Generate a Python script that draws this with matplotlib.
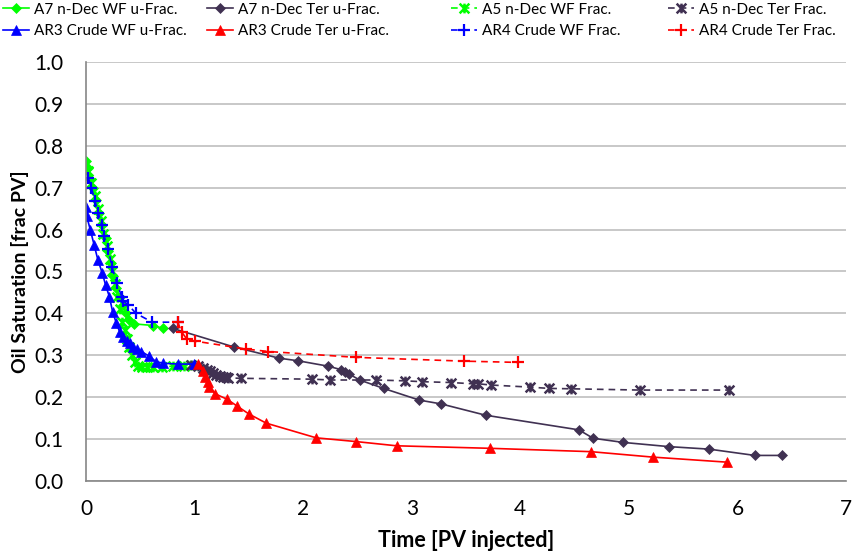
import numpy as np
import matplotlib
matplotlib.use('Agg')
import matplotlib.pyplot as plt
from matplotlib.path import Path

plt.rcParams['font.family'] = ['Lato', 'DejaVu Sans']

# A7 n-Dec WF u-Frac. (green, solid, diamond)
a7_wf_x = [0.0, 0.02, 0.04, 0.06, 0.09, 0.12, 0.15, 0.18, 0.20, 0.23, 0.25, 0.28,
           0.31, 0.34, 0.37, 0.40, 0.44, 0.62, 0.71]
a7_wf_y = [0.764, 0.746, 0.72, 0.70, 0.67, 0.64, 0.61, 0.58, 0.55, 0.52, 0.49, 0.46,
           0.44, 0.42, 0.40, 0.385, 0.375, 0.371, 0.364]

# A7 n-Dec Ter u-Frac. (dark purple, solid, diamond)
a7_ter_x = [0.80, 1.36, 1.78, 1.95, 2.23, 2.345, 2.385, 2.425, 2.52, 2.74, 3.07, 3.27,
            3.68, 4.54, 4.67, 4.95, 5.37, 5.74, 6.16, 6.41]
a7_ter_y = [0.364, 0.32, 0.293, 0.287, 0.274, 0.266, 0.261, 0.255, 0.241, 0.221, 0.193,
            0.184, 0.157, 0.122, 0.102, 0.092, 0.082, 0.076, 0.061, 0.061]

# A5 n-Dec WF Frac. (green, dashed, star)
a5_wf_x = [0.02, 0.05, 0.08, 0.11, 0.14, 0.16, 0.19, 0.22, 0.24, 0.27, 0.29, 0.31,
           0.33, 0.36, 0.38, 0.40, 0.42, 0.45, 0.48, 0.52, 0.56, 0.62, 0.70, 0.80,
           0.90, 0.97]
a5_wf_y = [0.74, 0.71, 0.68, 0.65, 0.62, 0.59, 0.56, 0.53, 0.50, 0.47, 0.44, 0.41,
           0.38, 0.36, 0.34, 0.32, 0.30, 0.285, 0.275, 0.272, 0.272, 0.272, 0.272,
           0.274, 0.275, 0.276]

# A5 n-Dec Ter Frac. (dark purple, dashed, star)
a5_ter_x = [0.97, 1.03, 1.08, 1.11, 1.14, 1.17, 1.20, 1.23, 1.26, 1.29, 1.31, 1.43,
            2.08, 2.25, 2.67, 2.94, 3.09, 3.36, 3.56, 3.61, 3.73, 4.09, 4.26, 4.47,
            5.10, 5.92]
a5_ter_y = [0.277, 0.274, 0.27, 0.266, 0.262, 0.258, 0.254, 0.251, 0.249, 0.247,
            0.246, 0.245, 0.243, 0.241, 0.241, 0.239, 0.237, 0.235, 0.232, 0.232,
            0.229, 0.224, 0.221, 0.220, 0.217, 0.217]

# AR3 Crude WF u-Frac. (blue, solid, triangle)
ar3_wf_x = [0.0, 0.005, 0.04, 0.075, 0.11, 0.15, 0.18, 0.215, 0.245, 0.28, 0.31,
            0.345, 0.375, 0.405, 0.435, 0.47, 0.51, 0.58, 0.645, 0.71, 0.85, 0.99]
ar3_wf_y = [0.653, 0.633, 0.599, 0.563, 0.527, 0.496, 0.468, 0.44, 0.404, 0.376,
            0.356, 0.343, 0.334, 0.329, 0.32, 0.315, 0.309, 0.298, 0.285, 0.281,
            0.279, 0.279]

# AR3 Crude Ter u-Frac. (red, solid, triangle)
ar3_ter_x = [1.03, 1.075, 1.10, 1.12, 1.135, 1.19, 1.30, 1.39, 1.50, 1.66, 2.12,
             2.49, 2.86, 3.72, 4.65, 5.22, 5.90]
ar3_ter_y = [0.279, 0.263, 0.249, 0.237, 0.225, 0.208, 0.195, 0.179, 0.160, 0.138,
             0.103, 0.094, 0.084, 0.078, 0.070, 0.057, 0.045]

# AR4 Crude WF Frac. (blue, dashed, plus)
ar4_wf_x = [0.02, 0.05, 0.083, 0.113, 0.145, 0.166, 0.206, 0.24, 0.283, 0.33, 0.344,
            0.39, 0.46, 0.61, 0.845]
ar4_wf_y = [0.724, 0.70, 0.667, 0.64, 0.611, 0.585, 0.553, 0.51, 0.472, 0.44, 0.43,
            0.42, 0.40, 0.379, 0.379]

# AR4 Crude Ter Frac. (red, dashed, plus)
ar4_ter_x = [0.845, 0.88, 0.93, 1.0, 1.47, 1.68, 2.49, 3.48, 3.98]
ar4_ter_y = [0.379, 0.356, 0.338, 0.334, 0.315, 0.309, 0.295, 0.286, 0.283]

green = '#00ff00'
purple = '#403152'
blue = '#0000ff'
red = '#ff0000'

# excel style star: an X with a vertical bar
star = Path([(-1, -1), (1, 1), (-1, 1), (1, -1), (0, -1), (0, 1)],
            [Path.MOVETO, Path.LINETO, Path.MOVETO, Path.LINETO, Path.MOVETO, Path.LINETO])

series = [
    (a7_wf_x, a7_wf_y, 'A7 n-Dec WF u-Frac.', green, '-', 'D'),
    (a7_ter_x, a7_ter_y, 'A7 n-Dec Ter u-Frac.', purple, '-', 'D'),
    (a5_wf_x, a5_wf_y, 'A5 n-Dec WF Frac.', green, '--', star),
    (a5_ter_x, a5_ter_y, 'A5 n-Dec Ter Frac.', purple, '--', star),
    (ar3_wf_x, ar3_wf_y, 'AR3 Crude WF u-Frac.', blue, '-', '^'),
    (ar3_ter_x, ar3_ter_y, 'AR3 Crude Ter u-Frac.', red, '-', '^'),
    (ar4_wf_x, ar4_wf_y, 'AR4 Crude WF Frac.', blue, '--', '+'),
    (ar4_ter_x, ar4_ter_y, 'AR4 Crude Ter Frac.', red, '--', '+'),
]

fig = plt.figure(figsize=(8.55, 5.58), dpi=100)
ax = fig.add_axes([0.1006, 0.138, 0.8889, 0.751])

handles = []
for x, y, label, col, ls, mk in series:
    if mk == '+':
        ms, mew = 9, 1.6
    elif mk is star:
        ms, mew = 7, 1.8
    elif mk == 'D':
        ms, mew = 5.5, 0.5
    else:
        ms, mew = 7.5, 0.5
    h, = ax.plot(x, y, color=col, ls=ls, lw=1.2, marker=mk, ms=ms, mew=mew,
                 mfc=col, mec=col, label=label, dashes=(4, 3) if ls == '--' else (None, None))
    handles.append(h)

ax.set_xlim(0, 7)
ax.set_ylim(0, 1.0)
ax.set_xticks(np.arange(0, 8, 1))
ax.set_yticks(np.arange(0, 1.01, 0.1))
ax.set_yticklabels(['%.1f' % v for v in np.arange(0, 1.01, 0.1)])
ax.tick_params(labelsize=15, length=0, colors='black')
ax.tick_params(axis='y', pad=16)
ax.tick_params(axis='x', pad=13)
ax.grid(axis='y', color='#bfbfbf', lw=1.2)
ax.set_axisbelow(True)
for s in ['top', 'right']:
    ax.spines[s].set_visible(False)
for s in ['left', 'bottom']:
    ax.spines[s].set_color('#868686')
    ax.spines[s].set_linewidth(1.2)

ax.set_xlabel('Time [PV injected]', fontsize=15.5, fontweight='bold', labelpad=8)
ax.set_ylabel('Oil Saturation [frac PV]', fontsize=14, fontweight='bold', labelpad=4)

# legend: excel fills it row by row, so each column holds series c and c+4
col_x = [3, 207, 451, 668]
for c in range(4):
    hs = [handles[c], handles[c + 4]]
    labs = [series[c][2], series[c + 4][2]]
    fig.legend(hs, labs, loc='upper left', bbox_to_anchor=(col_x[c] / 855, 0.995),
               frameon=False, fontsize=11, handlelength=1.7, handletextpad=0.3,
               labelspacing=0.5, borderpad=0, borderaxespad=0)

fig.savefig('out.png', dpi=100)
